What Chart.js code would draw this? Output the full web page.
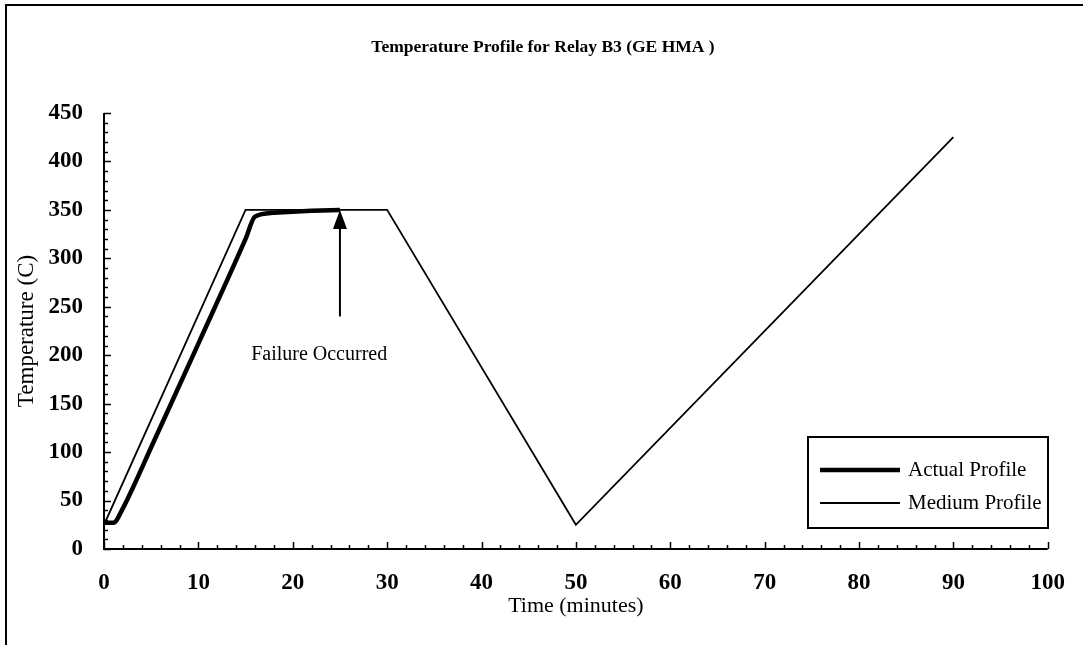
<!DOCTYPE html>
<html>
<head>
<meta charset="utf-8">
<script src="https://cdn.jsdelivr.net/npm/chart.js@4.4.0/dist/chart.umd.min.js"></script>
<style>
  html, body { margin: 0; padding: 0; background: #fff; }
  #wrap { position: relative; width: 1085px; height: 645px; }
  #frame { position: absolute; left: 5px; top: 4px; width: 1078px; height: 641px;
           border-left: 2px solid #000; border-top: 2px solid #000; box-sizing: border-box; pointer-events: none; }
</style>
</head>
<body>
<div id="wrap">
  <canvas id="c" width="1085" height="645"></canvas>
  <div id="frame"></div>
</div>
<script>
// ---- data ----
const chartTitle = "Temperature Profile for Relay B3 (GE HMA )";
const xTitle = "Time (minutes)";
const yTitle = "Temperature (C)";

const actualTime = [0, 1, 2, 3, 5, 10, 15, 16, 18, 22, 25];
const actualTemp = [27, 27, 42, 62, 105, 212, 320, 343, 347, 349, 350];

const mediumTime = [0, 15, 30, 50, 90];
const mediumTemp = [25, 350, 350, 25, 425];

const xMin = 0, xMax = 100, xStep = 10, xMinorStep = 2;
const yMin = 0, yMax = 450, yStep = 50, yMinorStep = 10;

const arrowTime = 25, arrowFromTemp = 240, arrowToTemp = 350;
const noteText = "Failure Occurred", noteTime = 22.8, noteTemp = 200;

const serif = "'Liberation Serif', 'DejaVu Serif', serif";

function toPts(xs, ys) { return xs.map((x, i) => ({ x: x, y: ys[i] })); }

const ticksPlugin = {
  id: 'innerTicks',
  afterDraw(chart) {
    const ctx = chart.ctx, xs = chart.scales.x, ys = chart.scales.y;
    const ca = chart.chartArea;
    ctx.save();
    ctx.strokeStyle = '#000';
    ctx.lineWidth = 1.5;
    // y ticks
    for (let v = yMin; v <= yMax + 1e-9; v += yMinorStep) {
      const py = Math.round(ys.getPixelForValue(v)) + 0.5;
      const len = (v % yStep === 0) ? 7 : 4;
      ctx.beginPath(); ctx.moveTo(ca.left, py); ctx.lineTo(ca.left + len, py); ctx.stroke();
    }
    // x ticks
    for (let v = xMin; v <= xMax + 1e-9; v += xMinorStep) {
      const px = Math.round(xs.getPixelForValue(v)) + 0.5;
      const len = (v % xStep === 0) ? 7 : 4;
      ctx.beginPath(); ctx.moveTo(px, ca.bottom); ctx.lineTo(px, ca.bottom - len); ctx.stroke();
    }
    // axis lines
    ctx.lineWidth = 2;
    ctx.beginPath(); ctx.moveTo(ca.left, ca.top); ctx.lineTo(ca.left, ca.bottom); ctx.lineTo(ca.right, ca.bottom); ctx.stroke();

    // arrow annotation
    const ax = xs.getPixelForValue(arrowTime);
    const ay0 = ys.getPixelForValue(arrowFromTemp);
    const ay1 = ys.getPixelForValue(arrowToTemp);
    ctx.lineWidth = 2;
    ctx.beginPath(); ctx.moveTo(ax, ay0); ctx.lineTo(ax, ay1 + 16); ctx.stroke();
    ctx.fillStyle = '#000';
    ctx.beginPath(); ctx.moveTo(ax, ay1); ctx.lineTo(ax - 7, ay1 + 19); ctx.lineTo(ax + 7, ay1 + 19); ctx.closePath(); ctx.fill();

    ctx.font = "20px " + serif;
    ctx.textAlign = 'center'; ctx.textBaseline = 'middle';
    ctx.fillText(noteText, xs.getPixelForValue(noteTime), ys.getPixelForValue(noteTemp));

    // title
    ctx.font = "bold 17.5px " + serif;
    ctx.fillText(chartTitle, 543, 47);

    // legend
    const lx = 808, ly = 437, lw = 240, lh = 91;
    ctx.lineWidth = 2;
    ctx.strokeRect(lx, ly, lw, lh);
    ctx.font = "21px " + serif;
    ctx.textAlign = 'left';
    chart.data.datasets.forEach((ds, i) => {
      const yy = ly + 33 + i * 33;
      ctx.lineWidth = ds.borderWidth;
      ctx.beginPath(); ctx.moveTo(lx + 12, yy); ctx.lineTo(lx + 92, yy); ctx.stroke();
      ctx.fillText(ds.label, lx + 100, yy);
    });
    ctx.restore();
  }
};

new Chart(document.getElementById('c'), {
  type: 'line',
  data: {
    datasets: [
      { label: 'Actual Profile', data: toPts(actualTime, actualTemp), borderColor: '#000', borderWidth: 4.5, pointRadius: 0, tension: 0.3, cubicInterpolationMode: 'monotone', fill: false },
      { label: 'Medium Profile', data: toPts(mediumTime, mediumTemp), borderColor: '#000', borderWidth: 1.8, pointRadius: 0, tension: 0, fill: false }
    ]
  },
  options: {
    responsive: false,
    animation: false,
    devicePixelRatio: 1,
    layout: { padding: { top: 113, right: 35, left: 0, bottom: 0 } },
    plugins: { legend: { display: false }, tooltip: { enabled: false }, title: { display: false } },
    scales: {
      x: {
        type: 'linear', min: xMin, max: xMax,
        ticks: { stepSize: xStep, color: '#000', padding: 20, font: { family: serif, size: 23, weight: 'bold' }, maxRotation: 0 },
        grid: { display: false, drawTicks: false },
        border: { display: false },
        title: { display: true, text: xTitle, color: '#000', font: { family: serif, size: 22 }, padding: { bottom: 26 } },
        afterFit(s) { s.height = 96; }
      },
      y: {
        type: 'linear', min: yMin, max: yMax,
        ticks: { stepSize: yStep, color: '#000', padding: 21, font: { family: serif, size: 23, weight: 'bold' } },
        grid: { display: false, drawTicks: false },
        border: { display: false },
        title: { display: true, text: yTitle, color: '#000', font: { family: serif, size: 23 }, padding: { top: 13 } },
        afterFit(s) { s.width = 104; }
      }
    }
  },
  plugins: [ticksPlugin]
});
</script>
</body>
</html>
